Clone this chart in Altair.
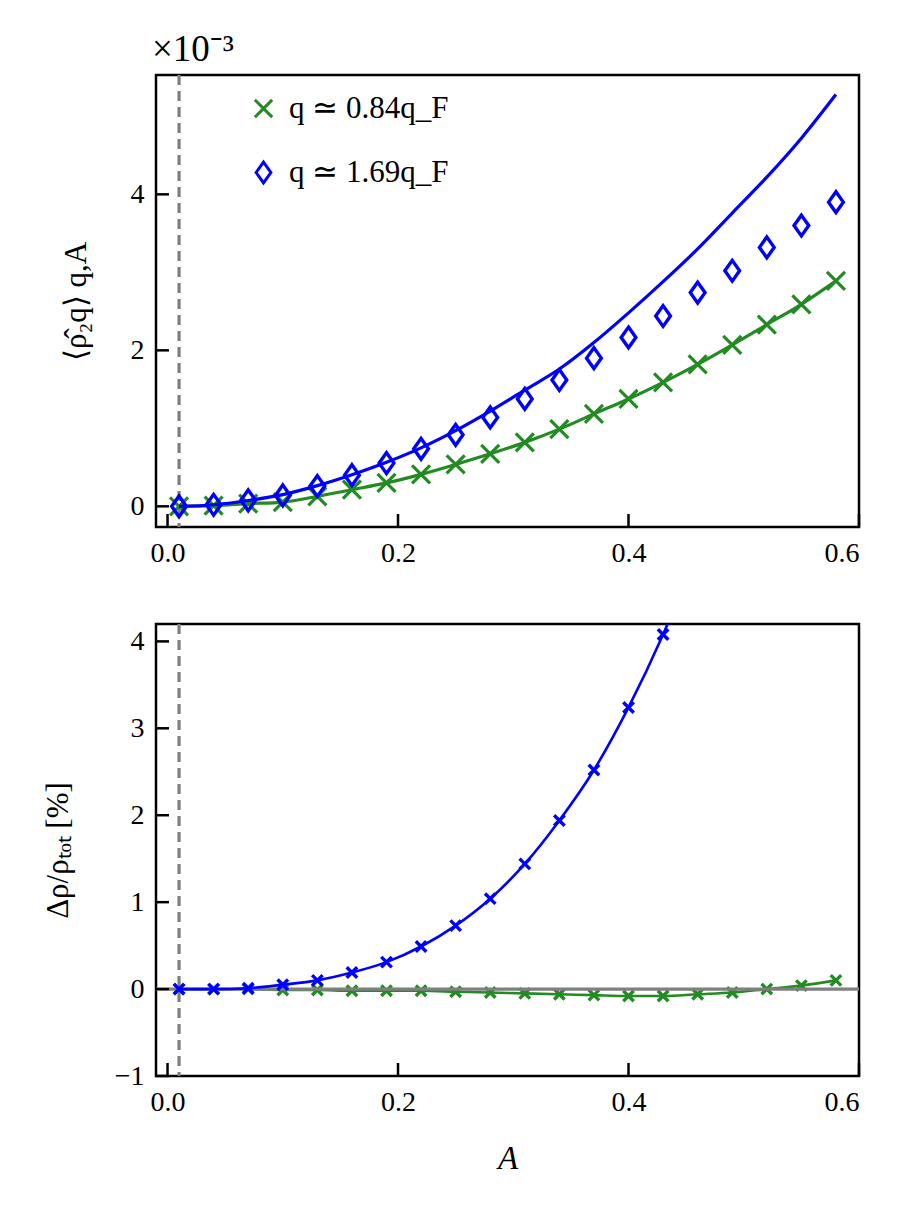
import altair as alt
import pandas as pd

# ---------------- data ----------------
A_VALUES = [0.01, 0.04, 0.07, 0.10, 0.13, 0.16, 0.19, 0.22, 0.25, 0.28,
            0.31, 0.34, 0.37, 0.40, 0.43, 0.46, 0.49, 0.52, 0.55, 0.58]

# top panel (units of 1e-3)
TOP_GREEN = [0.0, 0.01, 0.034, 0.055, 0.128, 0.213, 0.30, 0.41, 0.537, 0.673,
             0.82, 0.99, 1.185, 1.377, 1.59, 1.82, 2.07, 2.33, 2.59, 2.89]
TOP_BLUE_PTS = [0.0, 0.02, 0.077, 0.14, 0.26, 0.40, 0.554, 0.737, 0.917, 1.14,
                1.377, 1.62, 1.90, 2.165, 2.44, 2.74, 3.02, 3.32, 3.60, 3.90]
TOP_BLUE_CURVE = [0.0, 0.02, 0.075, 0.15, 0.265, 0.405, 0.565, 0.75, 0.97, 1.22,
                  1.49, 1.76, 2.10, 2.48, 2.88, 3.30, 3.76, 4.22, 4.72, 5.28]

# bottom panel (percent)
BOT_GREEN = [0.0, 0.0, 0.0, -0.01, -0.01, -0.02, -0.02, -0.02, -0.03, -0.04,
             -0.05, -0.06, -0.07, -0.08, -0.08, -0.06, -0.04, 0.0, 0.04, 0.10]
BOT_BLUE_A = [0.01, 0.04, 0.07, 0.10, 0.13, 0.16, 0.19, 0.22, 0.25, 0.28,
              0.31, 0.34, 0.37, 0.40, 0.43, 0.46]
BOT_BLUE = [0.0, 0.0, 0.01, 0.05, 0.10, 0.19, 0.31, 0.49, 0.73, 1.04,
            1.44, 1.94, 2.52, 3.24, 4.08, 5.05]

LBL_G = "q ≃ 0.84q_F"
LBL_B = "q ≃ 1.69q_F"
X_TICKS = [0.0, 0.2, 0.4, 0.6]
TOP_Y_TICKS = [0, 2, 4]
BOT_Y_TICKS = [-1, 0, 1, 2, 3, 4]
DASH_A = [0.01]

GREEN = "#228B22"
BLUE = "#0000FF"
GRAY = "#7f7f7f"
FONT = "Liberation Serif"
W, H = 703, 452
X_PATH = "M-1,-1L1,1M1,-1L-1,1"
D_PATH = "M0,-1.2L0.85,0L0,1.2L-0.85,0Z"

x_scale = alt.Scale(domain=[-0.01, 0.6], nice=False, zero=False)


def x_enc(title):
    return alt.X("A:Q", scale=x_scale,
                 axis=alt.Axis(values=X_TICKS, format=".1f", title=title,
                               labelPadding=12, titlePadding=26,
                               titleFontStyle="italic", titleFontSize=33))


def make_ticks(y_enc, yticks, xtitle):
    xt = alt.Chart(pd.DataFrame({"A": X_TICKS})).mark_tick(
        orient="vertical", size=13, thickness=2.5, color="black", opacity=1
    ).encode(x=x_enc(xtitle), y=alt.value(H - 6.5))
    yt = alt.Chart(pd.DataFrame({"V": yticks})).mark_tick(
        orient="horizontal", size=13, thickness=2.5, color="black", opacity=1
    ).encode(y=y_enc, x=alt.value(6.5))
    return [xt, yt]


# ---------------- top panel ----------------
y_top = alt.Y("V:Q", scale=alt.Scale(domain=[-0.265, 5.53], nice=False, zero=False),
              axis=alt.Axis(values=TOP_Y_TICKS, format="d", title="⟨ρ̂₂q⟩ q,A",
                            labelPadding=12, titlePadding=38))

df_top_g = pd.DataFrame({"A": A_VALUES, "V": TOP_GREEN, "s": LBL_G})
df_top_b = pd.DataFrame({"A": A_VALUES, "V": TOP_BLUE_PTS, "s": LBL_B})
df_top_curve = pd.DataFrame({"A": A_VALUES, "V": TOP_BLUE_CURVE})

legend = alt.Legend(orient="none", legendX=92, legendY=18, title=None,
                    labelFont=FONT, labelFontSize=31, labelColor="black",
                    symbolSize=300, symbolStrokeWidth=3, rowPadding=32,
                    labelOffset=10, symbolOpacity=1)
color_enc = alt.Color("s:N", scale=alt.Scale(domain=[LBL_G, LBL_B], range=[GREEN, BLUE]),
                      legend=legend)
shape_enc = alt.Shape("s:N", scale=alt.Scale(domain=[LBL_G, LBL_B], range=[X_PATH, D_PATH]),
                      legend=legend)

dash_top = alt.Chart(pd.DataFrame({"A": DASH_A})).mark_rule(
    color=GRAY, strokeDash=[10, 6], strokeWidth=3.2).encode(x=x_enc(None))
g_line_top = alt.Chart(df_top_g).mark_line(color=GREEN, strokeWidth=3.2,
                                           interpolate="monotone").encode(x=x_enc(None), y=y_top)
b_curve_top = alt.Chart(df_top_curve).mark_line(color=BLUE, strokeWidth=3.2,
                                                interpolate="monotone").encode(x=x_enc(None), y=y_top)
g_pts_top = alt.Chart(df_top_g).mark_point(filled=False, strokeWidth=3.2, size=324, opacity=1).encode(
    x=x_enc(None), y=y_top, color=color_enc, shape=shape_enc)
b_pts_top = alt.Chart(df_top_b).mark_point(filled=False, strokeWidth=3.4, size=300, opacity=1).encode(
    x=x_enc(None), y=y_top, color=color_enc, shape=shape_enc)

top = alt.layer(
    dash_top, g_line_top, g_pts_top, b_curve_top, b_pts_top,
    *make_ticks(y_top, TOP_Y_TICKS, None)
).properties(
    width=W, height=H,
    title=alt.TitleParams("×10⁻³", anchor="start", frame="group", font=FONT,
                          fontSize=37, fontWeight="normal", color="black",
                          offset=4, dx=-4)
)

# ---------------- bottom panel ----------------
y_bot = alt.Y("V:Q", scale=alt.Scale(domain=[-1, 4.2], nice=False, zero=False),
              axis=alt.Axis(values=BOT_Y_TICKS, format="d", title="Δρ/ρₜₒₜ  [%]",
                            labelPadding=12, titlePadding=40))

df_bot_g = pd.DataFrame({"A": A_VALUES, "V": BOT_GREEN})
df_bot_b = pd.DataFrame({"A": BOT_BLUE_A, "V": BOT_BLUE})

dash_bot = alt.Chart(pd.DataFrame({"A": DASH_A})).mark_rule(
    color=GRAY, strokeDash=[10, 6], strokeWidth=3.2).encode(x=x_enc("A"))
g_line_bot = alt.Chart(df_bot_g).mark_line(color=GREEN, strokeWidth=2.6, clip=True,
                                           interpolate="monotone").encode(x=x_enc("A"), y=y_bot)
g_pts_bot = alt.Chart(df_bot_g).mark_point(filled=False, strokeWidth=3.4, size=110, opacity=1,
                                           shape=X_PATH, color=GREEN, clip=True).encode(
    x=x_enc("A"), y=y_bot)
zero_bot = alt.Chart(pd.DataFrame({"V": [0]})).mark_rule(
    color=GRAY, strokeWidth=3.2).encode(y=y_bot)
b_line_bot = alt.Chart(df_bot_b).mark_line(color=BLUE, strokeWidth=2.6, clip=True,
                                           interpolate="monotone").encode(x=x_enc("A"), y=y_bot)
b_pts_bot = alt.Chart(df_bot_b).mark_point(filled=False, strokeWidth=3.4, size=110, opacity=1,
                                           shape=X_PATH, color=BLUE, clip=True).encode(
    x=x_enc("A"), y=y_bot)

bottom = alt.layer(
    dash_bot, g_line_bot, g_pts_bot, zero_bot, b_line_bot, b_pts_bot,
    *make_ticks(y_bot, BOT_Y_TICKS, "A")
).properties(width=W, height=H)

chart = alt.vconcat(
    top, bottom, spacing=52, background="white",
    padding={"left": 32, "top": 22, "right": 5, "bottom": 5}
).configure_view(
    stroke="black", strokeWidth=2.5
).configure_axis(
    domain=False, grid=False, ticks=False,
    labelFont=FONT, labelFontSize=28, labelColor="black",
    titleFont=FONT, titleFontSize=31, titleFontWeight="normal", titleColor="black",
)

chart.save("out.html", embed_options={"renderer": "svg", "actions": False})
